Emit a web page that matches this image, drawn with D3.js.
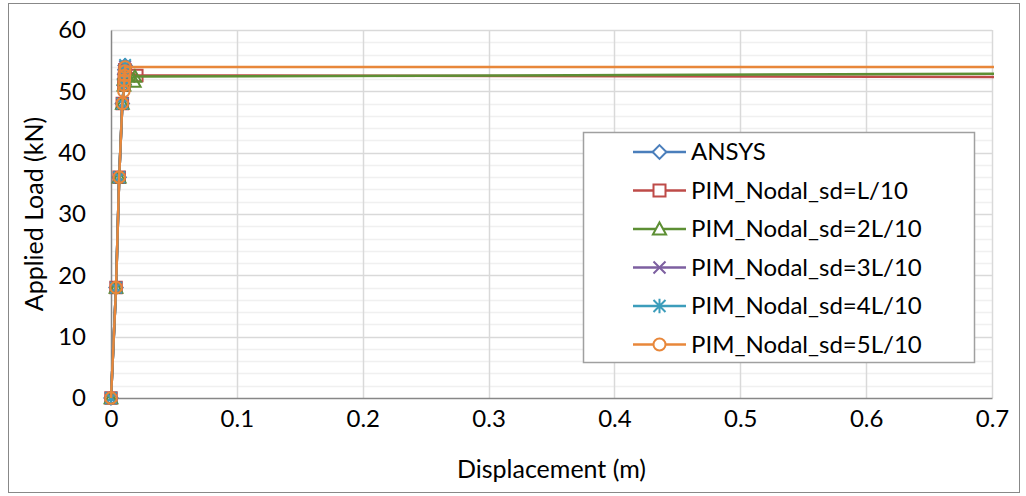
<!DOCTYPE html>
<html><head><meta charset="utf-8">
<script src="https://cdn.jsdelivr.net/npm/d3@7/dist/d3.min.js"></script>
<style>body{margin:0;background:#fff}svg{display:block}text{font-family:Lato,"Liberation Sans",sans-serif;fill:#000}</style>
</head><body><svg id="c" width="1026" height="496"></svg>
<script>
// ---- data (displacement in m, load in kN) ----
const seriesNames = ["ANSYS","PIM_Nodal_sd=L/10","PIM_Nodal_sd=2L/10","PIM_Nodal_sd=3L/10","PIM_Nodal_sd=4L/10","PIM_Nodal_sd=5L/10"];
const ansysX = [0, 0.0040, 0.0065, 0.0090, 0.0103, 0.0106, 0.0108, 0.0110, 0.0112];
const ansysY = [0, 18, 36, 48, 51.0, 52.0, 52.8, 53.5, 54.2];
const sd1X = [0, 0.0040, 0.0065, 0.0090, 0.0103, 0.0106, 0.0108, 0.0110, 0.0205, 0.72];
const sd1Y = [0, 18, 36, 48, 51.0, 52.0, 52.8, 53.5, 52.6, 52.33];
const sd2X = [0, 0.0040, 0.0065, 0.0090, 0.0103, 0.0106, 0.0108, 0.0185, 0.0190, 0.72];
const sd2Y = [0, 18, 36, 48, 51.0, 52.0, 52.8, 51.6, 52.4, 52.87];
const sd3X = [0, 0.0040, 0.0065, 0.0090, 0.0103, 0.0106, 0.0108, 0.0110, 0.0112];
const sd3Y = [0, 18, 36, 48, 51.0, 52.0, 52.8, 53.5, 54.0];
const sd4X = [0, 0.0040, 0.0065, 0.0090, 0.0103, 0.0106, 0.0108, 0.0110, 0.0112];
const sd4Y = [0, 18, 36, 48, 51.0, 52.0, 52.8, 53.5, 54.3];
const sd5X = [0, 0.0040, 0.0065, 0.0090, 0.0102, 0.0104, 0.0106, 0.0108, 0.0110, 0.0112, 0.72];
const sd5Y = [0, 18, 36, 48, 50.0, 51.0, 51.8, 52.6, 53.3, 53.95, 53.95];
const xTicks = [0, 0.1, 0.2, 0.3, 0.4, 0.5, 0.6, 0.7];
const yTicks = [0, 10, 20, 30, 40, 50, 60];
const yMinor = d3.range(0, 61, 2);
const colors = ["#4a7ebb","#be4b48","#5d8f34","#7d5fa0","#3c9dbb","#e8873a"];
const markers = ["diamond","square","triangle","x","star","circle"];

const seriesX = [ansysX, sd1X, sd2X, sd3X, sd4X, sd5X];
const seriesY = [ansysY, sd1Y, sd2Y, sd3Y, sd4Y, sd5Y];
const series = seriesNames.map((n,i)=>({name:n,color:colors[i],marker:markers[i],
  pts:seriesX[i].map((x,j)=>({x:x,y:seriesY[i][j]}))}));

const svg = d3.select("#c");
const L = 111, R = 992, T = 30, B = 398;
const x = d3.scaleLinear().domain([0,0.7]).range([L,R]);
const y = d3.scaleLinear().domain([0,60]).range([B,T]);

// outer border
svg.append("rect").attr("x",8.5).attr("y",3.5).attr("width",1011).attr("height",489)
  .attr("fill","#fff").attr("stroke","#888").attr("stroke-width",1);

// minor gridlines
svg.append("g").selectAll("line").data(yMinor.filter(v=>v%10!==0)).join("line")
  .attr("x1",L).attr("x2",R).attr("y1",d=>Math.round(y(d))+0.5).attr("y2",d=>Math.round(y(d))+0.5)
  .attr("stroke","#f0f0f0").attr("stroke-width",1.5);
// major gridlines
svg.append("g").selectAll("line").data(yTicks.filter(v=>v>0)).join("line")
  .attr("x1",L).attr("x2",R).attr("y1",d=>Math.round(y(d))+0.5).attr("y2",d=>Math.round(y(d))+0.5)
  .attr("stroke","#d9d9d9").attr("stroke-width",1.5);
svg.append("g").selectAll("line").data(xTicks.filter(v=>v>0)).join("line")
  .attr("y1",T).attr("y2",B).attr("x1",d=>Math.round(x(d))+0.5).attr("x2",d=>Math.round(x(d))+0.5)
  .attr("stroke","#d9d9d9").attr("stroke-width",1.5);

// axes
const xAxis = svg.append("g").attr("transform",`translate(0,${B})`)
  .call(d3.axisBottom(x).tickValues(xTicks).tickFormat(d=>d===0?"0":d3.format(".1f")(d)).tickSize(0).tickPadding(12));
const yAxis = svg.append("g").attr("transform",`translate(${L},0)`)
  .call(d3.axisLeft(y).tickValues(yTicks).tickSize(0).tickPadding(25));
[xAxis,yAxis].forEach(a=>{
  a.select(".domain").attr("stroke","#878787").attr("stroke-width",1.5);
  a.selectAll("text").attr("font-size",24).attr("font-family","Lato, sans-serif").attr("fill","#000");
});

// axis titles
svg.append("text").attr("x",(L+R)/2).attr("y",478).attr("text-anchor","middle")
  .attr("font-size",25).text("Displacement (m)");
svg.append("text").attr("transform",`translate(43,${(T+B)/2}) rotate(-90)`).attr("text-anchor","middle")
  .attr("font-size",25).text("Applied Load (kN)");

// clip
svg.append("clipPath").attr("id","pc").append("rect").attr("x",L-10).attr("y",T-10).attr("width",R-L+12).attr("height",B-T+20);

function markerPath(type, s){
  const r = s/2;
  switch(type){
    case "diamond": return `M0,${-r*1.15}L${r*1.15},0L0,${r*1.15}L${-r*1.15},0Z`;
    case "square": return `M${-r},${-r}H${r}V${r}H${-r}Z`;
    case "triangle": return `M0,${-r*1.1}L${r*1.1},${r*0.9}L${-r*1.1},${r*0.9}Z`;
    case "x": return `M${-r},${-r}L${r},${r}M${r},${-r}L${-r},${r}`;
    case "star": return `M${-r},${-r}L${r},${r}M${r},${-r}L${-r},${r}M0,${-r*1.2}V${r*1.2}`;
    case "circle": return `M${r},0A${r},${r},0,1,1,${-r},0A${r},${r},0,1,1,${r},0Z`;
  }
}

const line = d3.line().x(d=>x(d.x)).y(d=>y(d.y));
const plot = svg.append("g").attr("clip-path","url(#pc)");
series.forEach(s=>{
  const g = plot.append("g");
  g.append("path").datum(s.pts).attr("d",line).attr("fill","none")
    .attr("stroke",s.color).attr("stroke-width",2.5).attr("stroke-linejoin","round");
  g.selectAll("path.m").data(s.pts.filter(p=>p.x<=0.7)).join("path").attr("class","m")
    .attr("transform",p=>`translate(${x(p.x)},${y(p.y)})`)
    .attr("d",markerPath(s.marker,11.5)).attr("fill","none")
    .attr("stroke",s.color).attr("stroke-width",2);
});

// legend
const lg = svg.append("g");
lg.append("rect").attr("x",583.5).attr("y",132.5).attr("width",391).attr("height",230)
  .attr("fill","#fff").attr("stroke","#a0a0a0").attr("stroke-width",1.5);
series.forEach((s,i)=>{
  const cy = 152 + i*38.5;
  lg.append("line").attr("x1",633).attr("x2",686).attr("y1",cy).attr("y2",cy)
    .attr("stroke",s.color).attr("stroke-width",2.5);
  lg.append("path").attr("transform",`translate(659.5,${cy})`).attr("d",markerPath(s.marker,12))
    .attr("fill",(s.marker==="x"||s.marker==="star")?"none":"#fff").attr("stroke",s.color).attr("stroke-width",2);
  lg.append("text").attr("x",691).attr("y",cy).attr("dy","0.35em").attr("font-size",24).text(s.name);
});
</script></body></html>
